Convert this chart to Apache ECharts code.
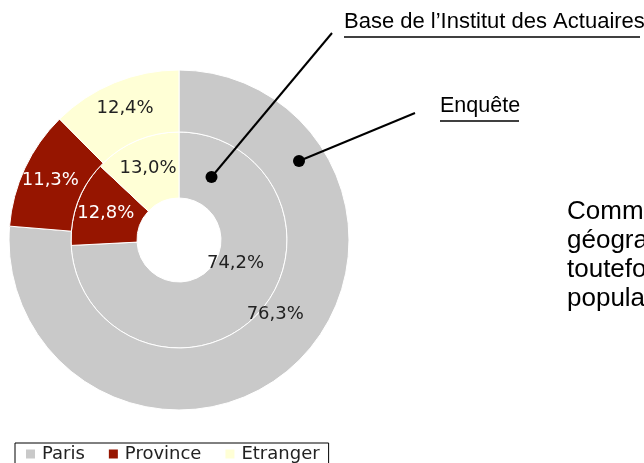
<!DOCTYPE html>
<html>
<head>
<meta charset="utf-8">
<script src="https://cdn.jsdelivr.net/npm/echarts@6/dist/echarts.min.js"></script>
<style>
  html, body { margin: 0; padding: 0; background: #fff; }
  #chart { width: 644px; height: 463px; }
</style>
</head>
<body>
<div id="chart"></div>
<script>
// origine géographique
const categories = ['Paris', 'Province', 'Etranger']
const baseValues = [74.2, 12.8, 13.0]     // Base de l'Institut des Actuaires (anneau intérieur)
const enqueteValues = [76.3, 11.3, 12.4]  // Enquête (anneau extérieur)
const colors = ['#c9c9c9', '#961500', '#ffffd6']
const sideText = ['Comme', 'géographique', 'toutefois', 'population']

const chart = echarts.init(document.getElementById('chart'))

const fmt = p => p.value.toFixed(1).replace('.', ',') + '%'
const labelColor = i => (i === 1 ? '#ffffff' : '#222222')

function ring(name, values, radius) {
  return {
    name: name,
    type: 'pie',
    center: [179, 240],
    radius: radius,
    startAngle: 90,
    clockwise: true,
    silent: true,
    itemStyle: { borderColor: '#ffffff', borderWidth: 1 },
    label: {
      position: 'inside',
      formatter: fmt,
      fontFamily: 'DejaVu Sans',
      fontSize: 18
    },
    labelLine: { show: false },
    // Paris labels sit higher than the slice middle
    labelLayout: p => (p.dataIndex === 0 ? { dy: -30 } : {}),
    data: categories.map((c, i) => ({
      name: c,
      value: values[i],
      itemStyle: { color: colors[i] },
      label: { color: labelColor(i) }
    }))
  }
}

const graphics = [
  { type: 'line', z: 100, shape: { x1: 211.5, y1: 177, x2: 332, y2: 33 }, style: { stroke: '#000', lineWidth: 2 } },
  { type: 'circle', z: 100, shape: { cx: 211.5, cy: 177, r: 6 }, style: { fill: '#000' } },
  { type: 'line', z: 100, shape: { x1: 299, y1: 161, x2: 415, y2: 113 }, style: { stroke: '#000', lineWidth: 2 } },
  { type: 'circle', z: 100, shape: { cx: 299, cy: 161, r: 6 }, style: { fill: '#000' } },
  {
    type: 'text', left: 344, top: 11,
    style: { text: "Base de l\u2019Institut des Actuaires", fontFamily: 'Liberation Sans', fontSize: 22, fill: '#000' }
  },
  { type: 'line', shape: { x1: 344, y1: 37, x2: 640, y2: 37 }, style: { stroke: '#000', lineWidth: 1.5 } },
  {
    type: 'text', left: 440, top: 95,
    style: { text: 'Enquête', fontFamily: 'Liberation Sans', fontSize: 21.5, fill: '#000' }
  },
  { type: 'line', shape: { x1: 440, y1: 121, x2: 519, y2: 121 }, style: { stroke: '#000', lineWidth: 1.5 } }
]

sideText.forEach((t, i) => {
  graphics.push({
    type: 'text', left: 567, top: 199 + i * 29,
    style: { text: t, fontFamily: 'Liberation Sans', fontSize: 26, fill: '#000' }
  })
})

chart.setOption({
  animation: false,
  legend: {
    left: 15,
    top: 443,
    orient: 'horizontal',
    data: categories,
    icon: 'path://M0,0H1V1H0Z',
    itemWidth: 13,
    itemHeight: 9,
    itemGap: 24,
    itemStyle: { borderWidth: 0 },
    padding: [2, 9, 4, 11],
    borderColor: '#000',
    borderWidth: 1,
    textStyle: { fontFamily: 'DejaVu Sans', fontSize: 18, color: '#222' }
  },
  series: [
    ring("Base de l'Institut des Actuaires", baseValues, [42, 108]),
    ring('Enquête', enqueteValues, [108, 170])
  ],
  graphic: graphics
})
</script>
</body>
</html>
